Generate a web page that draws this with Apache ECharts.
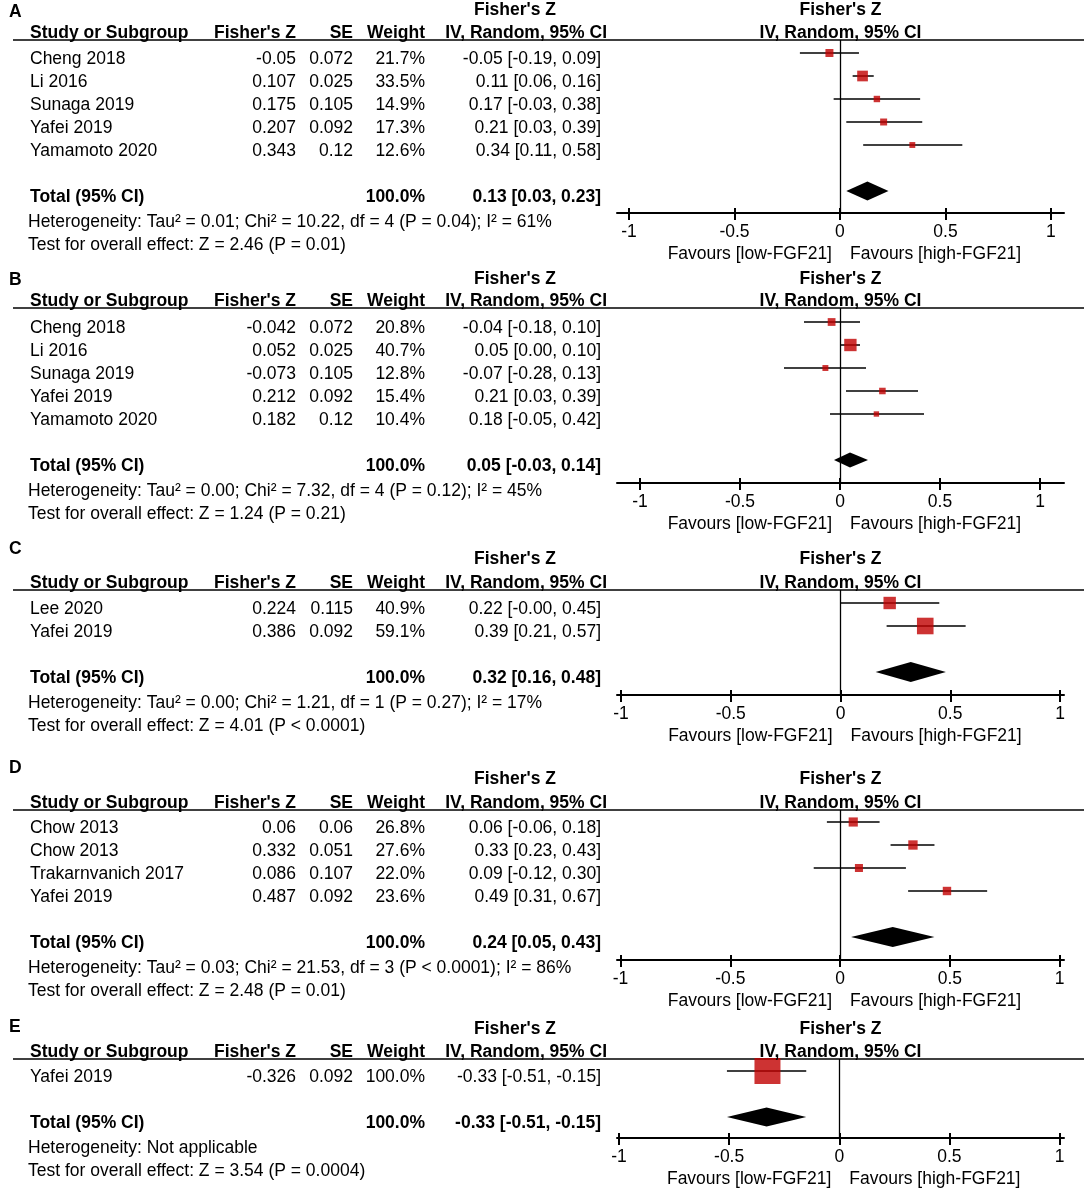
<!DOCTYPE html>
<html><head><meta charset="utf-8">
<script src="https://cdn.jsdelivr.net/npm/echarts@6/dist/echarts.min.js"></script>
<style>html,body{margin:0;padding:0;background:#fff}#c{width:1084px;height:1191px}</style>
</head><body><div id="c"></div>
<script>
// ---------- DATA ----------
const panelLetters = ['A', 'B', 'C', 'D', 'E'];
const tickValues = [-1, -0.5, 0, 0.5, 1];
const favourLow = 'Favours [low-FGF21]';
const favourHigh = 'Favours [high-FGF21]';

const studiesA = ['Cheng 2018', 'Li 2016', 'Sunaga 2019', 'Yafei 2019', 'Yamamoto 2020'];
const fzA = [-0.05, 0.107, 0.175, 0.207, 0.343];
const seA = [0.072, 0.025, 0.105, 0.092, 0.12];
const wA = [21.7, 33.5, 14.9, 17.3, 12.6];
const ciA = [[-0.05, -0.19, 0.09], [0.11, 0.06, 0.16], [0.17, -0.03, 0.38], [0.21, 0.03, 0.39], [0.34, 0.11, 0.58]];
const totalA = [0.13, 0.03, 0.23];
const hetA = 'Heterogeneity: Tau² = 0.01; Chi² = 10.22, df = 4 (P = 0.04); I² = 61%';
const testA = 'Test for overall effect: Z = 2.46 (P = 0.01)';

const studiesB = ['Cheng 2018', 'Li 2016', 'Sunaga 2019', 'Yafei 2019', 'Yamamoto 2020'];
const fzB = [-0.042, 0.052, -0.073, 0.212, 0.182];
const seB = [0.072, 0.025, 0.105, 0.092, 0.12];
const wB = [20.8, 40.7, 12.8, 15.4, 10.4];
const ciB = [[-0.04, -0.18, 0.10], [0.05, 0.00, 0.10], [-0.07, -0.28, 0.13], [0.21, 0.03, 0.39], [0.18, -0.05, 0.42]];
const totalB = [0.05, -0.03, 0.14];
const hetB = 'Heterogeneity: Tau² = 0.00; Chi² = 7.32, df = 4 (P = 0.12); I² = 45%';
const testB = 'Test for overall effect: Z = 1.24 (P = 0.21)';

const studiesC = ['Lee 2020', 'Yafei 2019'];
const fzC = [0.224, 0.386];
const seC = [0.115, 0.092];
const wC = [40.9, 59.1];
const ciC = [[0.22, -0.001, 0.45], [0.39, 0.21, 0.57]];
const totalC = [0.32, 0.16, 0.48];
const hetC = 'Heterogeneity: Tau² = 0.00; Chi² = 1.21, df = 1 (P = 0.27); I² = 17%';
const testC = 'Test for overall effect: Z = 4.01 (P < 0.0001)';

const studiesD = ['Chow 2013', 'Chow 2013', 'Trakarnvanich 2017', 'Yafei 2019'];
const fzD = [0.06, 0.332, 0.086, 0.487];
const seD = [0.06, 0.051, 0.107, 0.092];
const wD = [26.8, 27.6, 22.0, 23.6];
const ciD = [[0.06, -0.06, 0.18], [0.33, 0.23, 0.43], [0.09, -0.12, 0.30], [0.49, 0.31, 0.67]];
const totalD = [0.24, 0.05, 0.43];
const hetD = 'Heterogeneity: Tau² = 0.03; Chi² = 21.53, df = 3 (P < 0.0001); I² = 86%';
const testD = 'Test for overall effect: Z = 2.48 (P = 0.01)';

const studiesE = ['Yafei 2019'];
const fzE = [-0.326];
const seE = [0.092];
const wE = [100.0];
const ciE = [[-0.33, -0.51, -0.15]];
const totalE = [-0.33, -0.51, -0.15];
const hetE = 'Heterogeneity: Not applicable';
const testE = 'Test for overall effect: Z = 3.54 (P = 0.0004)';

const panels = [
  { studies: studiesA, fz: fzA, se: seA, w: wA, ci: ciA, total: totalA, het: hetA, test: testA },
  { studies: studiesB, fz: fzB, se: seB, w: wB, ci: ciB, total: totalB, het: hetB, test: testB },
  { studies: studiesC, fz: fzC, se: seC, w: wC, ci: ciC, total: totalC, het: hetC, test: testC },
  { studies: studiesD, fz: fzD, se: seD, w: wD, ci: ciD, total: totalD, het: hetD, test: testD },
  { studies: studiesE, fz: fzE, se: seE, w: wE, ci: ciE, total: totalE, het: hetE, test: testE }
];

// ---------- LAYOUT ----------
const FONT = '"Liberation Sans", Arial, Helvetica, sans-serif';
const FS = 17.5;
const ROW = 23;
const GRID_LEFT = 617, GRID_RIGHT = 20;
const layout = [
  { line: 40,   sq0: 53,   axis: 213,  letterY: 12,   fzY: 10,   xmin: -1.057, xmax: 1.062, dh: 19 },
  { line: 308,  sq0: 322,  axis: 483,  letterY: 280,  fzY: 279,  xmin: -1.115, xmax: 1.12,  dh: 15 },
  { line: 590,  sq0: 603,  axis: 695,  letterY: 549,  fzY: 559,  xmin: -1.018, xmax: 1.018, dh: 20 },
  { line: 810,  sq0: 822,  axis: 960,  letterY: 768,  fzY: 779,  xmin: -1.016, xmax: 1.02,  dh: 20 },
  { line: 1059, sq0: 1071, axis: 1138, letterY: 1027, fzY: 1029, xmin: -1.009, xmax: 1.02,  dh: 19 }
];
const COL = { name: 30, fz: 296, se: 353, w: 425, ci: 601, ciHead: 607, fzHeadCenter: 515 };

const chart = echarts.init(document.getElementById('c'), null, { renderer: 'canvas' });

const grid = [], xAxis = [], yAxis = [], series = [];
layout.forEach((L, i) => {
  const gh = L.axis - L.line;
  grid.push({ left: GRID_LEFT, right: GRID_RIGHT, top: L.line, height: gh, containLabel: false });
  xAxis.push({
    gridIndex: i, type: 'value', min: L.xmin, max: L.xmax, position: 'bottom',
    axisLine: { show: true, onZero: false, lineStyle: { color: '#000', width: 2 } },
    axisTick: { show: true, customValues: tickValues, length: 7, lineStyle: { color: '#000', width: 2 } },
    axisLabel: { show: true, customValues: tickValues, margin: 10, color: '#000', fontSize: FS, fontFamily: FONT,
      formatter: v => String(v) },
    splitLine: { show: false }
  });
  // second axis: placed on top then shifted down onto the bottom line, its outward ticks point up
  xAxis.push({
    gridIndex: i, type: 'value', min: L.xmin, max: L.xmax, position: 'top', offset: -gh,
    axisLine: { show: false },
    axisTick: { show: true, inside: false, customValues: tickValues, length: 5, lineStyle: { color: '#000', width: 2 } },
    axisLabel: { show: false },
    splitLine: { show: false }
  });
  yAxis.push({ gridIndex: i, type: 'value', inverse: true, min: (L.line - L.sq0) / ROW, max: (L.axis - L.sq0) / ROW, show: false });

  const P = panels[i];
  const n = P.studies.length;
  series.push({
    type: 'custom', xAxisIndex: 2 * i, yAxisIndex: i, z: 2, silent: true,
    data: P.ci.map((c, j) => [c[1], c[2], j]),
    encode: { x: [0, 1], y: 2 },
    renderItem: (params, api) => {
      const a = api.coord([api.value(0), api.value(2)]);
      const b = api.coord([api.value(1), api.value(2)]);
      return { type: 'line', shape: { x1: a[0], y1: a[1], x2: b[0], y2: b[1] }, style: { stroke: '#000', lineWidth: 1.5 } };
    }
  });
  series.push({
    type: 'scatter', xAxisIndex: 2 * i, yAxisIndex: i, z: 3, silent: true,
    symbol: 'rect',
    symbolSize: v => 3 + 0.23 * v[2],
    itemStyle: { color: '#c00000' },
    data: P.fz.map((v, j) => [v, j, P.w[j]]),
    markLine: {
      silent: true, symbol: ['none', 'none'], label: { show: false },
      lineStyle: { color: '#000', width: 1.3, type: 'solid' },
      data: [{ xAxis: 0 }]
    }
  });
  series.push({
    type: 'custom', xAxisIndex: 2 * i, yAxisIndex: i, z: 3, silent: true,
    data: [[P.total[0], P.total[1], P.total[2], n + 1]],
    encode: { x: [0, 1, 2], y: 3 },
    renderItem: (params, api) => {
      const row = api.value(3);
      const c = api.coord([api.value(0), row]);
      const lo = api.coord([api.value(1), row]);
      const hi = api.coord([api.value(2), row]);
      const h = L.dh / 2;
      return { type: 'polygon', shape: { points: [lo, [c[0], c[1] - h], hi, [c[0], c[1] + h]] }, style: { fill: '#000' } };
    }
  });
});

chart.setOption({ animation: false, backgroundColor: '#fff', grid, xAxis, yAxis, series });

// ---------- TABLE TEXT ----------
function txt(x, y, text, align, bold) {
  return { type: 'text', x: x, y: y, silent: true, z: 10,
    style: { text: text, font: (bold ? 'bold ' : '') + FS + 'px ' + FONT, fill: '#000', align: align, verticalAlign: 'middle' } };
}
const f2 = v => v.toFixed(2);
const ciStr = c => f2(c[0]) + ' [' + f2(c[1]) + ', ' + f2(c[2]) + ']';
const graphics = [];
layout.forEach((L, i) => {
  const P = panels[i];
  const n = P.studies.length;
  const finder = { xAxisIndex: 2 * i, yAxisIndex: i };
  const rowY = r => chart.convertToPixel(finder, [0, r])[1];
  const zeroX = chart.convertToPixel(finder, [0, 0])[0];
  const topY = rowY((L.line - L.sq0) / ROW);
  const axisY = rowY((L.axis - L.sq0) / ROW);
  const rightCenter = (GRID_LEFT + (1084 - GRID_RIGHT)) / 2;

  graphics.push({ type: 'line', silent: true, shape: { x1: 13, y1: topY, x2: 1084, y2: topY }, style: { stroke: '#000', lineWidth: 1.5 } });
  graphics.push(txt(9, L.letterY, panelLetters[i], 'left', true));
  graphics.push(txt(COL.fzHeadCenter, L.fzY, "Fisher's Z", 'center', true));
  graphics.push(txt(rightCenter, L.fzY, "Fisher's Z", 'center', true));
  const hy = topY - 7;
  graphics.push(txt(COL.name, hy, 'Study or Subgroup', 'left', true));
  graphics.push(txt(COL.fz, hy, "Fisher's Z", 'right', true));
  graphics.push(txt(COL.se, hy, 'SE', 'right', true));
  graphics.push(txt(COL.w, hy, 'Weight', 'right', true));
  graphics.push(txt(COL.ciHead, hy, 'IV, Random, 95% CI', 'right', true));
  graphics.push(txt(rightCenter, hy, 'IV, Random, 95% CI', 'center', true));

  P.studies.forEach((s, j) => {
    const y = rowY(j) + 6;
    graphics.push(txt(COL.name, y, s, 'left', false));
    graphics.push(txt(COL.fz, y, String(P.fz[j]), 'right', false));
    graphics.push(txt(COL.se, y, String(P.se[j]), 'right', false));
    graphics.push(txt(COL.w, y, P.w[j].toFixed(1) + '%', 'right', false));
    graphics.push(txt(COL.ci, y, ciStr(P.ci[j]), 'right', false));
  });
  const ty = rowY(n + 1) + 6;
  graphics.push(txt(COL.name, ty, 'Total (95% CI)', 'left', true));
  graphics.push(txt(COL.w, ty, '100.0%', 'right', true));
  graphics.push(txt(COL.ci, ty, ciStr(P.total), 'right', true));
  graphics.push(txt(28, ty + 25, P.het, 'left', false));
  graphics.push(txt(28, ty + 48, P.test, 'left', false));

  graphics.push(txt(zeroX - 8, axisY + 41, favourLow, 'right', false));
  graphics.push(txt(zeroX + 10, axisY + 41, favourHigh, 'left', false));
});
chart.setOption({ graphic: graphics });
</script>
</body></html>
